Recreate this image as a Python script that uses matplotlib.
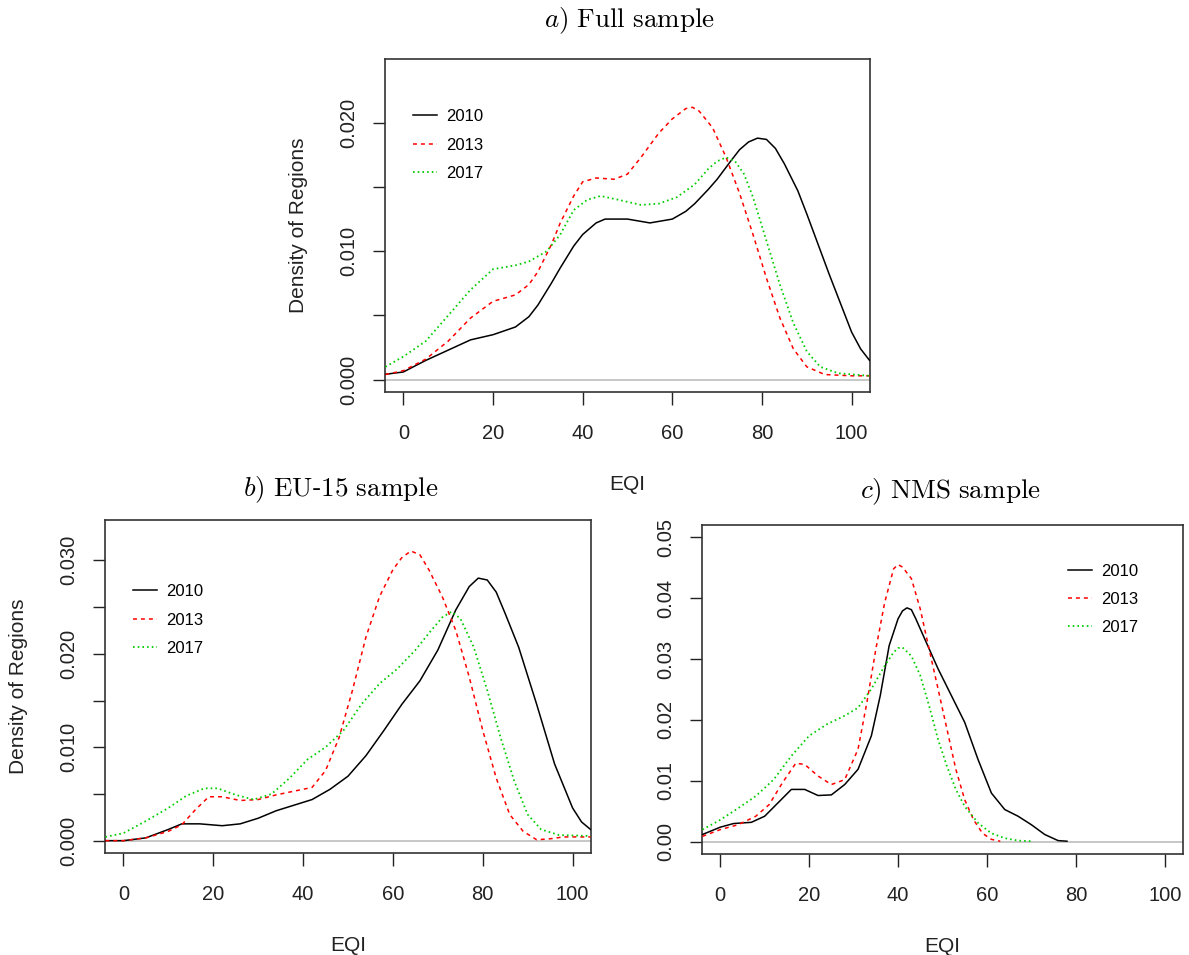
import matplotlib
matplotlib.use("Agg")
import matplotlib.pyplot as plt
import numpy as np

plt.rcParams['font.family'] = ['Liberation Sans', 'DejaVu Sans']
plt.rcParams['mathtext.fontset'] = 'cm'

years = ["2010", "2013", "2017"]
colors = ["#000000", "#FF0000", "#00CC00"]

# ---- a) Full sample ----
full_x_2010 = [-4, 0, 5, 10, 15, 20, 25, 28, 30, 33, 35, 38, 40, 43, 45, 50, 55, 60, 63, 65, 68, 70, 73, 75, 77,
               79, 81, 83, 85, 88, 90, 95, 100, 102, 104]
full_y_2010 = [0.00042, 0.0006, 0.0015, 0.0023, 0.0031, 0.0035, 0.0041, 0.0049, 0.0058, 0.0075, 0.0087, 0.0104,
               0.0113, 0.0122, 0.0125, 0.0125, 0.0122, 0.0125, 0.0131, 0.0137, 0.0148, 0.0156, 0.0170, 0.0179,
               0.0185, 0.0188, 0.0187, 0.0180, 0.0168, 0.0147, 0.0129, 0.0082, 0.0037, 0.0024, 0.0015]
full_x_2013 = [-4, 0, 5, 10, 15, 20, 25, 28, 30, 33, 35, 38, 40, 43, 47, 50, 53, 57, 60, 63, 64.5, 66, 69, 72, 75,
               78, 81, 84, 87, 90, 94, 100, 104]
full_y_2013 = [0.0004, 0.0007, 0.0016, 0.0030, 0.0048, 0.0061, 0.0066, 0.0074, 0.0084, 0.0105, 0.0122, 0.0143,
               0.0154, 0.0157, 0.0156, 0.0160, 0.0173, 0.0192, 0.0203, 0.0211, 0.0212, 0.0209, 0.0196, 0.0173,
               0.0145, 0.0113, 0.0079, 0.0048, 0.0024, 0.0010, 0.0004, 0.0003, 0.0003]
full_x_2017 = [-4, 0, 5, 10, 15, 20, 25, 28, 32, 35, 38, 41, 44, 48, 53, 57, 61, 65, 68, 70, 72, 74, 76, 78, 81,
               84, 87, 90, 93, 97, 104]
full_y_2017 = [0.0010, 0.0018, 0.0030, 0.0050, 0.0070, 0.0086, 0.0089, 0.0092, 0.0100, 0.0113, 0.0132, 0.0140,
               0.0143, 0.0140, 0.0136, 0.0137, 0.0142, 0.0152, 0.0164, 0.0170, 0.0173, 0.0170, 0.0160, 0.0142,
               0.0108, 0.0074, 0.0044, 0.0022, 0.0010, 0.0005, 0.0003]

# ---- b) EU-15 sample ----
eu_x_2010 = [-4, 0, 5, 10, 13, 17, 22, 26, 30, 34, 38, 42, 46, 50, 54, 58, 62, 66, 70, 74, 77, 79, 81, 83, 85,
             88, 92, 96, 100, 102, 104]
eu_y_2010 = [0.0, 0.0, 0.0003, 0.0012, 0.0018, 0.0018, 0.0016, 0.0018, 0.0024, 0.0032, 0.0038, 0.0044, 0.0055,
             0.0069, 0.0091, 0.0118, 0.0146, 0.0171, 0.0204, 0.0247, 0.0272, 0.0281, 0.0279, 0.0266, 0.0243,
             0.0207, 0.0146, 0.0082, 0.0035, 0.0020, 0.0012]
eu_x_2013 = [-4, 0, 5, 10, 13, 16, 19, 22, 26, 30, 34, 38, 42, 45, 48, 51, 54, 57, 60, 62, 64, 66, 68, 71, 74,
             77, 80, 83, 86, 89, 92, 95, 98, 104]
eu_y_2013 = [0.0, 0.0, 0.0003, 0.0010, 0.0017, 0.0033, 0.0047, 0.0047, 0.0043, 0.0044, 0.0049, 0.0053, 0.0057,
             0.0075, 0.0110, 0.0161, 0.0218, 0.0261, 0.0290, 0.0303, 0.0310, 0.0306, 0.0290, 0.0261, 0.0225,
             0.0175, 0.0118, 0.0067, 0.0028, 0.0010, 0.0001, 0.0002, 0.0004, 0.0004]
eu_x_2017 = [-4, 0, 5, 10, 14, 18, 21, 25, 29, 33, 37, 41, 45, 49, 53, 57, 61, 65, 68, 71, 73, 75, 78, 81, 84,
             87, 90, 93, 97, 104]
eu_y_2017 = [0.0004, 0.0008, 0.0021, 0.0035, 0.0048, 0.0056, 0.0056, 0.0049, 0.0044, 0.0050, 0.0067, 0.0087,
             0.0100, 0.0118, 0.0146, 0.0168, 0.0184, 0.0204, 0.0222, 0.0239, 0.0245, 0.0238, 0.0207, 0.0161,
             0.0110, 0.0064, 0.0028, 0.0012, 0.0006, 0.0005]

# ---- c) NMS sample ----
nms_x_2010 = [-4, 0, 3, 7, 10, 13, 16, 19, 22, 25, 28, 31, 34, 36, 38, 40, 41, 42, 43, 44, 46, 49, 52, 55, 58,
              61, 64, 67, 70, 73, 76, 78]
nms_y_2010 = [0.0012, 0.0024, 0.0030, 0.0032, 0.0042, 0.0064, 0.0086, 0.0086, 0.0076, 0.0077, 0.0094, 0.0119,
              0.0174, 0.0240, 0.0322, 0.0366, 0.0379, 0.0384, 0.0381, 0.0366, 0.0333, 0.0284, 0.0240, 0.0196,
              0.0135, 0.0080, 0.0053, 0.0042, 0.0028, 0.0012, 0.0002, 0.0001]
nms_x_2013 = [-4, 0, 4, 8, 11, 14, 17, 19, 22, 25, 28, 31, 33, 35, 37, 39, 40, 41, 43, 45, 47, 49, 51, 53, 55,
              57, 59, 61, 63]
nms_y_2013 = [0.0009, 0.0020, 0.0028, 0.0042, 0.0061, 0.0097, 0.0129, 0.0127, 0.0108, 0.0094, 0.0102, 0.0152,
              0.0229, 0.0316, 0.0393, 0.0448, 0.0455, 0.0451, 0.0432, 0.0382, 0.0316, 0.0251, 0.0185, 0.0119,
              0.0069, 0.0036, 0.0014, 0.0004, 0.0001]
nms_x_2017 = [-4, 0, 4, 8, 12, 16, 20, 24, 28, 31, 34, 37, 39, 40, 41, 43, 45, 47, 49, 51, 53, 55, 58, 61, 64,
              67, 70]
nms_y_2017 = [0.0020, 0.0036, 0.0055, 0.0075, 0.0102, 0.0141, 0.0174, 0.0193, 0.0207, 0.0220, 0.0251, 0.0289,
              0.0311, 0.0318, 0.0319, 0.0305, 0.0273, 0.0223, 0.0168, 0.0124, 0.0086, 0.0058, 0.0031, 0.0014,
              0.0006, 0.0002, 0.0001]

x_ticks = [0, 20, 40, 60, 80, 100]

W, H = 1189, 955
fig = plt.figure(figsize=(W / 100, H / 100), dpi=100)


def axes_px(l, t, r, b):
    return fig.add_axes([l / W, 1 - b / H, (r - l) / W, (b - t) / H])


styles = [dict(ls='-', lw=1.1),
          dict(ls=(0, (2.6, 2.6)), lw=1.1),
          dict(ls=(0, (0.9, 1.7)), lw=1.3)]


def panel(ax, series, ylim, yticks, ylabels, title, title_x, title_pad, ylabel, legend_anchor):
    ax.axhline(0, color='#BEBEBE', lw=1.2, zorder=1)
    for (xs, ys), yr, c, st in zip(series, years, colors, styles):
        ax.plot(xs, ys, color=c, label=yr, zorder=3, **st)
    ax.set_xlim(-4.1, 104.1)
    ax.set_ylim(*ylim)
    ax.set_xticks(x_ticks)
    ax.set_xticklabels([str(v) for v in x_ticks])
    ax.set_yticks(yticks)
    ax.set_yticklabels(ylabels, rotation=90, va='center')
    ax.tick_params(axis='both', direction='out', length=9, width=1, labelsize=14.5,
                   colors='#222222')
    ax.tick_params(axis='x', pad=14)
    ax.tick_params(axis='y', pad=10)
    for s in ax.spines.values():
        s.set_linewidth(1.2)
        s.set_color('#333333')
    ax.set_xlabel("EQI", fontsize=15, labelpad=23, color='#222222')
    if ylabel:
        ax.set_ylabel(ylabel, fontsize=15, labelpad=23, color='#222222')
    ax.set_title(title, fontsize=19.5, pad=title_pad, x=title_x)
    ax.legend(loc='upper left', bbox_to_anchor=legend_anchor, frameon=False, fontsize=12,
              handlelength=1.45, handletextpad=0.55, labelspacing=0.8, borderaxespad=0)


ax1 = axes_px(385, 59, 870, 392)
panel(ax1, [(full_x_2010, full_y_2010), (full_x_2013, full_y_2013), (full_x_2017, full_y_2017)],
      (-0.00096, 0.02496), np.arange(0, 0.0201, 0.005),
      ["0.000", "", "0.010", "", "0.020"],
      r'$\mathit{a)}\ \mathrm{Full\ sample}$', 0.505, 23, "Density of Regions", (0.0433, 0.869))

ax2 = axes_px(105, 520, 591, 853)
panel(ax2, [(eu_x_2010, eu_y_2010), (eu_x_2013, eu_y_2013), (eu_x_2017, eu_y_2017)],
      (-0.00132, 0.03432), np.arange(0, 0.0301, 0.005),
      ["0.000", "", "0.010", "", "0.020", "", "0.030"],
      r'$\mathit{b)}\ \mathrm{EU}$-$\mathrm{15\ sample}$', 0.486, 17, "Density of Regions", (0.0438, 0.827))

ax3 = axes_px(702, 525, 1183, 854)
panel(ax3, [(nms_x_2010, nms_y_2010), (nms_x_2013, nms_y_2013), (nms_x_2017, nms_y_2017)],
      (-0.002, 0.052), np.arange(0, 0.0501, 0.01),
      ["0.00", "0.01", "0.02", "0.03", "0.04", "0.05"],
      r'$\mathit{c)}\ \mathrm{NMS\ sample}$', 0.516, 19, None, (0.747, 0.903))

fig.savefig("out.png", dpi=100)
